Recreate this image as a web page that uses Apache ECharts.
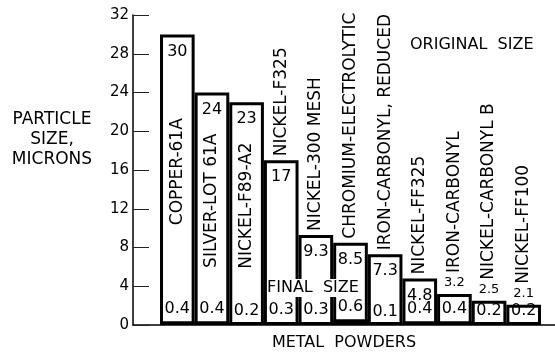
<!DOCTYPE html>
<html>
<head>
<meta charset="utf-8">
<script src="https://cdn.jsdelivr.net/npm/echarts@6/dist/echarts.min.js"></script>
<style>
html,body{margin:0;padding:0;background:#fff;}
#c{width:555px;height:356px;}
</style>
</head>
<body>
<div id="c"></div>
<script>
const categories = ['COPPER-61A','SILVER-LOT 61A','NICKEL-F89-A2','NICKEL-F325','NICKEL-300 MESH','CHROMIUM-ELECTROLYTIC','IRON-CARBONYL, REDUCED','NICKEL-FF325','IRON-CARBONYL','NICKEL-CARBONYL B','NICKEL-FF100'];
const originalSize = [30, 24, 23, 17, 9.3, 8.5, 7.3, 4.8, 3.2, 2.5, 2.1];
const finalSize = [0.4, 0.4, 0.2, 0.3, 0.3, 0.6, 0.1, 0.4, 0.4, 0.2, 0.2];
const yMin = 0, yMax = 32, yStep = 4;
const yAxisTitle = 'PARTICLE\nSIZE,\nMICRONS';
const xAxisTitle = 'METAL  POWDERS';
const originalLabel = 'ORIGINAL  SIZE';
const finalLabel = 'FINAL  SIZE';

const FONT = 'DejaVu Sans';
const chart = echarts.init(document.getElementById('c'), null, {renderer: 'canvas'});

const valueData = originalSize.map(v => ({
  value: v,
  label: v >= 4
    ? {position: 'insideTop', distance: 9, fontSize: 16}
    : {position: 'top', distance: 5, fontSize: 13}
}));
const nameData = originalSize.map((v, i) => ({
  value: v,
  name: categories[i],
  label: v >= 20
    ? {position: 'inside', rotate: 90, align: 'center', verticalAlign: 'middle', offset: [8, 0]}
    : {position: 'top', rotate: 90, align: 'left', verticalAlign: 'middle', distance: v >= 4 ? 4 : 21}
}));

const option = {
  animation: false,
  backgroundColor: '#fff',
  textStyle: {fontFamily: FONT, color: '#000'},
  grid: [
    {left: 160, right: 14, top: 15, bottom: 31, containLabel: false},
    {left: 133, right: 0, top: 15, bottom: 31, containLabel: false}
  ],
  xAxis: [
    {type: 'category', gridIndex: 0, data: categories, show: false},
    {type: 'value', gridIndex: 1, min: 0, max: 1,
     axisLine: {show: true, lineStyle: {color: '#000', width: 1.5}},
     axisTick: {show: false}, axisLabel: {show: false}, splitLine: {show: false},
     name: xAxisTitle, nameLocation: 'middle', nameGap: 10,
     nameTextStyle: {fontFamily: FONT, fontSize: 16, color: '#000', verticalAlign: 'top'}}
  ],
  yAxis: [
    {type: 'value', gridIndex: 0, min: yMin, max: yMax, interval: yStep, show: false},
    {type: 'value', gridIndex: 1, min: yMin, max: yMax, interval: yStep,
     axisLine: {show: true, lineStyle: {color: '#000', width: 1.5}},
     axisTick: {show: true, inside: true, length: 16, lineStyle: {color: '#222', width: 1}},
     axisLabel: {show: true, fontFamily: FONT, fontSize: 15, color: '#000', margin: 4, showMinLabel: true, showMaxLabel: true},
     splitLine: {show: false}}
  ],
  graphic: [
    {type: 'text', z: 100, left: 8, top: 110, style: {text: yAxisTitle, font: '17px "DejaVu Sans"', fill: '#000', textAlign: 'center', lineHeight: 20, width: 88, align: 'center'}},
    {type: 'text', z: 100, x: 410, y: 45, style: {text: originalLabel, font: '16px "DejaVu Sans"', fill: '#000', textAlign: 'left', textVerticalAlign: 'middle'}},
    {type: 'text', z: 100, x: 267, y: 288, style: {text: finalLabel, font: '16px "DejaVu Sans"', fill: '#000', textAlign: 'left', textVerticalAlign: 'middle', backgroundColor: '#fff', padding: [1, 0]}}
  ],
  series: [
    {
      type: 'bar', xAxisIndex: 0, yAxisIndex: 0, barWidth: '100%', barGap: '-100%',
      data: valueData,
      itemStyle: {color: '#fff', borderColor: '#000', borderWidth: 3},
      label: {show: true, color: '#000', fontFamily: FONT, formatter: p => String(p.value)},
      emphasis: {disabled: true}, silent: true, z: 2
    },
    {
      type: 'bar', xAxisIndex: 0, yAxisIndex: 0, barWidth: '100%', barGap: '-100%',
      data: finalSize,
      itemStyle: {color: '#000', borderWidth: 0},
      label: {show: true, position: 'top', distance: 4, color: '#000', fontFamily: FONT, fontSize: 16, formatter: p => String(p.value)},
      emphasis: {disabled: true}, silent: true, z: 3
    },
    {
      type: 'bar', xAxisIndex: 0, yAxisIndex: 0, barWidth: '100%', barGap: '-100%',
      data: nameData,
      itemStyle: {color: 'rgba(0,0,0,0)', borderWidth: 0},
      label: {show: true, color: '#000', fontFamily: FONT, fontSize: 17, formatter: p => p.name},
      emphasis: {disabled: true}, silent: true, z: 4
    }
  ]
};
chart.setOption(option);
</script>
</body>
</html>
